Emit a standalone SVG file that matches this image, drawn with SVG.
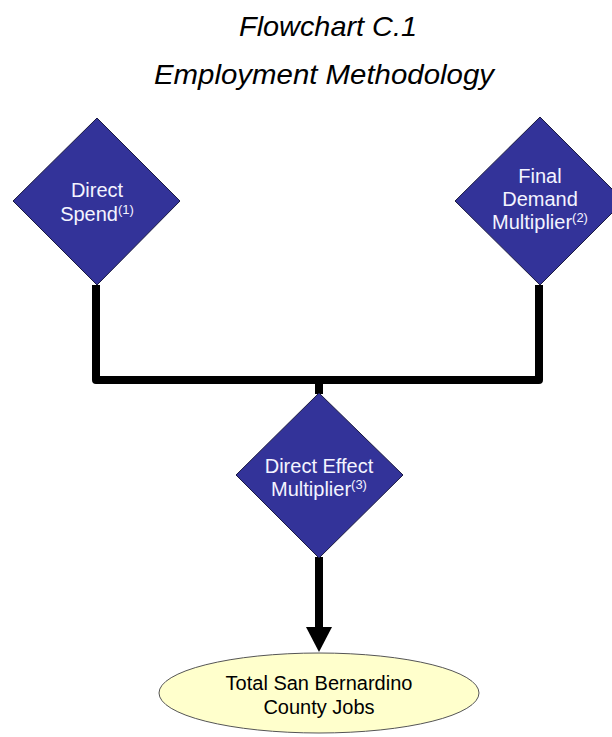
<svg xmlns="http://www.w3.org/2000/svg" width="612" height="737" viewBox="0 0 612 737">
<style>
.title{font-family:"Liberation Sans",Arial,sans-serif;font-style:italic;font-size:28px;fill:#000;text-anchor:middle}
.dia{fill:#333399;stroke:#1a1a40;stroke-width:1}
.dt{font-family:"Liberation Sans",Arial,sans-serif;font-size:20px;fill:#f4f4ff;text-anchor:middle}
.sup{font-size:13px}
.ell{fill:#ffffcc;stroke:#555;stroke-width:1}
.et{font-family:"Liberation Sans",Arial,sans-serif;font-size:20px;fill:#000;text-anchor:middle}
.conn{fill:none;stroke:#000;stroke-width:8;stroke-linejoin:round}
</style>
<rect width="612" height="737" fill="#fff"/>
<g id="title">
<text class="title" x="328" y="36" textLength="178" lengthAdjust="spacingAndGlyphs">Flowchart C.1</text>
<text class="title" x="324" y="84" textLength="340" lengthAdjust="spacingAndGlyphs">Employment Methodology</text>
</g>
<g id="connectors">
<path class="conn" d="M96 285 V380 H539 V285"/>
<path class="conn" d="M319 380 V394"/>
<path class="conn" d="M319 557 V629"/>
<polygon points="306,627 332,627 319,652" fill="#000"/>
</g>
<g id="direct-spend">
<polygon class="dia" points="97,118 180,201 97,285 13,201"/>
<text class="dt" x="97" y="197">Direct</text>
<text class="dt" x="97" y="221">Spend<tspan class="sup" dy="-7">(1)</tspan></text>
</g>
<g id="final-demand">
<polygon class="dia" points="540,117 624,201 540,285 455,201"/>
<text class="dt" x="540" y="183">Final</text>
<text class="dt" x="540" y="206">Demand</text>
<text class="dt" x="540" y="229">Multiplier<tspan class="sup" dy="-7">(2)</tspan></text>
</g>
<g id="direct-effect">
<polygon class="dia" points="319,393 403,475 319,558 236,475"/>
<text class="dt" x="319" y="473">Direct Effect</text>
<text class="dt" x="319" y="496">Multiplier<tspan class="sup" dy="-7">(3)</tspan></text>
</g>
<g id="total-jobs">
<ellipse class="ell" cx="319" cy="693" rx="160" ry="40"/>
<text class="et" x="319" y="690">Total San Bernardino</text>
<text class="et" x="319" y="714">County Jobs</text>
</g>
</svg>
